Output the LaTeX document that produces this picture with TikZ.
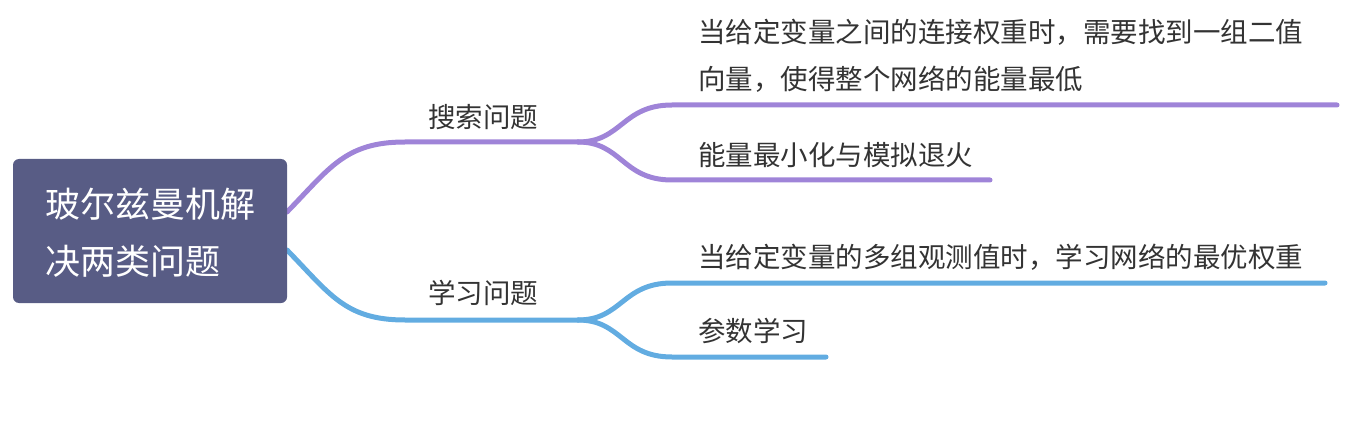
\documentclass[tikz,border=0pt]{standalone}
\usepackage{fontspec}
\setmainfont{Noto Sans CJK SC}
\begin{document}
\begin{tikzpicture}[x=1pt,y=-1pt,
  rootbox/.style={fill=boxcol,rounded corners=6pt,draw=none},
  roottext/.style={text=white,anchor=west,inner sep=0pt,align=left,font=\fontsize{35}{57}\selectfont},
  label/.style={text=txt,anchor=west,inner sep=0pt,align=left,font=\fontsize{27.5}{47}\selectfont},
  purpleline/.style={draw=pur,line width=5pt,line cap=round},
  blueline/.style={draw=blu,line width=5pt,line cap=round}]
\definecolor{boxcol}{HTML}{585C85}
\definecolor{pur}{HTML}{9F84D8}
\definecolor{blu}{HTML}{62ACE1}
\definecolor{txt}{HTML}{333333}
\useasboundingbox (0,0) rectangle (1348,422);
% coordinates
\coordinate (rp) at (287,212);
\coordinate (rb) at (287,250);
\coordinate (sp) at (578,142);
\coordinate (sb) at (578,320);
\coordinate (l1s) at (672,105);
\coordinate (l1e) at (1337,105);
\coordinate (l2s) at (672,180);
\coordinate (l2e) at (990,180);
\coordinate (l3s) at (672,283);
\coordinate (l3e) at (1325,283);
\coordinate (l4s) at (672,357);
\coordinate (l4e) at (826,357);
% branches
\draw[purpleline] (rp) .. controls (330,168) and (345,142) .. (405,142) -- (sp);
\draw[purpleline] (sp) .. controls (622,142) and (622,105) .. (l1s) -- (l1e);
\draw[purpleline] (sp) .. controls (622,142) and (622,180) .. (l2s) -- (l2e);
\draw[blueline] (rb) .. controls (330,294) and (345,320) .. (405,320) -- (sb);
\draw[blueline] (sb) .. controls (622,320) and (622,283) .. (l3s) -- (l3e);
\draw[blueline] (sb) .. controls (622,320) and (622,357) .. (l4s) -- (l4e);
% root
\fill[rootbox] (13,159) rectangle (287,303);
\node[roottext] (root) at (45,233) {玻尔兹曼机解\\决两类问题};
% branch labels
\node[label] (search) at (428,117) {搜索问题};
\node[label] (learn) at (428,293) {学习问题};
% leaves
\node[label] (leafa) at (698,56) {当给定变量之间的连接权重时，需要找到一组二值\\向量，使得整个网络的能量最低};
\node[label] (leafb) at (698,155) {能量最小化与模拟退火};
\node[label] (leafc) at (698,257) {当给定变量的多组观测值时，学习网络的最优权重};
\node[label] (leafd) at (698,331) {参数学习};
\end{tikzpicture}
\end{document}
